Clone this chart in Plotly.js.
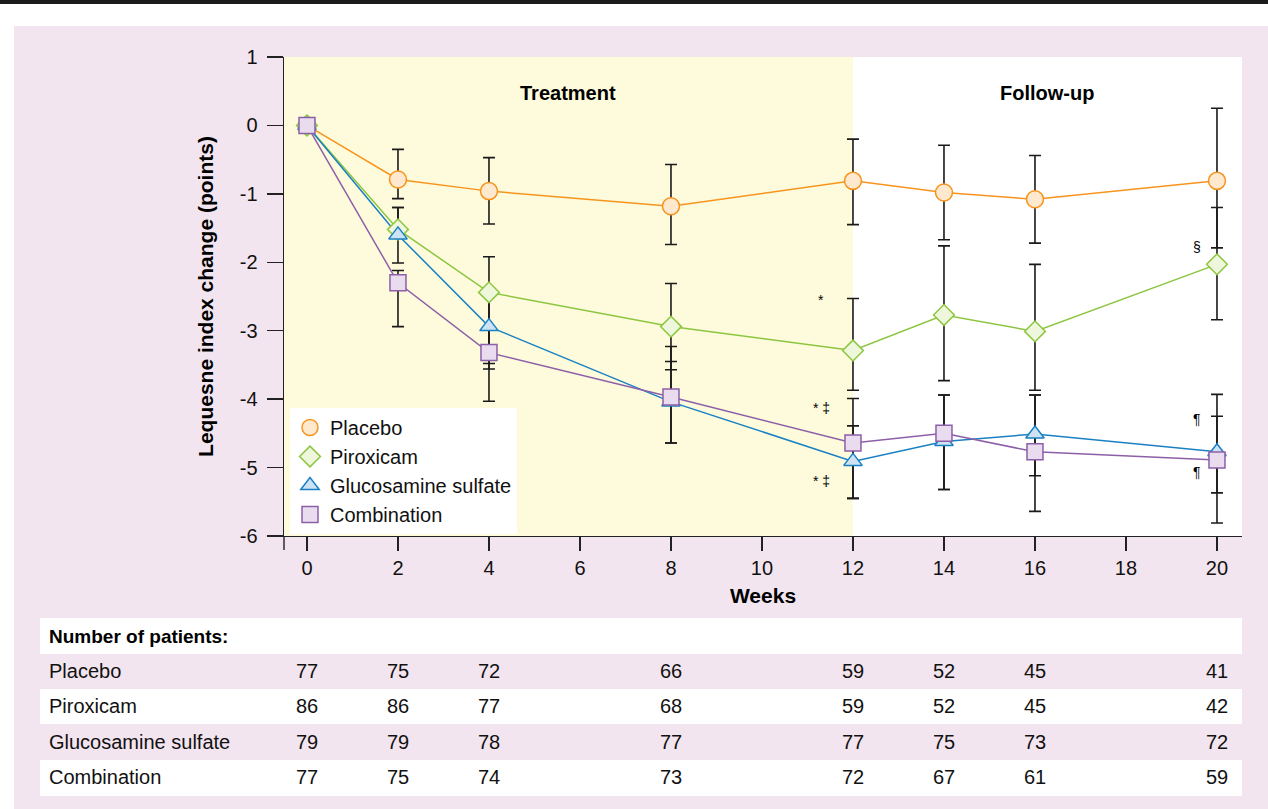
<!DOCTYPE html>
<html>
<head>
<meta charset="utf-8">
<script src="https://cdn.plot.ly/plotly-3.0.1.min.js"></script>
<style>html,body{margin:0;padding:0;background:#fff;}#chart{width:1268px;height:809px;}</style>
</head>
<body>
<div id="chart"></div>
<script>
// ---------- data ----------
const weeks = [0, 2, 4, 8, 12, 14, 16, 20];
const seriesNames = ["Placebo", "Piroxicam", "Glucosamine sulfate", "Combination"];

const placebo      = [0, -0.79, -0.96, -1.18, -0.81, -0.98, -1.08, -0.81];
const placeboUpper = [0, -0.35, -0.47, -0.57, -0.20, -0.29, -0.44,  0.25];
const placeboLower = [0, -1.07, -1.44, -1.74, -1.45, -1.67, -1.72, -1.79];

const piroxicam      = [0, -1.52, -2.44, -2.94, -3.29, -2.77, -3.01, -2.03];
const piroxicamUpper = [0, -1.20, -1.92, -2.31, -2.53, -1.76, -2.03, -1.20];
const piroxicamLower = [0, -1.52, -3.56, -3.57, -3.87, -3.73, -3.87, -2.84];

const glucosamine      = [0, -1.60, -2.94, -4.04, -4.91, -4.62, -4.51, -4.77];
const glucosamineUpper = [0, -1.20, -2.40, -3.45, -4.39, -3.94, -3.94, -4.25];
const glucosamineLower = [0, -2.01, -3.48, -4.64, -5.45, -5.32, -5.12, -5.37];

const combination      = [0, -2.30, -3.32, -3.97, -4.64, -4.50, -4.77, -4.89];
const combinationUpper = [0, -2.12, -2.94, -3.23, -3.99, -3.94, -3.94, -3.93];
const combinationLower = [0, -2.94, -4.03, -4.64, -5.45, -5.32, -5.64, -5.81];

const yTickVals   = [1, 0, -1, -2, -3, -4, -5, -6];
const yTickLabels = ["1", "0", "-1", "-2", "-3", "-4", "-5", "-6"];
const xTickVals   = [0, 2, 4, 6, 8, 10, 12, 14, 16, 18, 20];

const tableHeader = "Number of patients:";
const nPlacebo     = [77, 75, 72, 66, 59, 52, 45, 41];
const nPiroxicam   = [86, 86, 77, 68, 59, 52, 45, 42];
const nGlucosamine = [79, 79, 78, 77, 77, 75, 73, 72];
const nCombination = [77, 75, 74, 73, 72, 67, 61, 59];

const phaseLabels = ["Treatment", "Follow-up"];
const treatmentEnd = 12;

// significance marks: [x (weeks), y (points), text]
const sigMarks = [
  [11.3, -2.55, "*"],
  [11.3, -4.13, "* \u2021"],
  [11.3, -5.19, "* \u2021"],
  [19.55, -1.77, "\u00a7"],
  [19.55, -4.29, "\u00b6"],
  [19.55, -5.06, "\u00b6"]
];

// ---------- styles ----------
const FONT = "Liberation Sans, Arial, Helvetica, sans-serif";
const styles = [
  {line: "#f7941d", fill: "#fee9cf", symbol: "circle", size: 17},
  {line: "#8cc63f", fill: "#eef6dc", symbol: "diamond", size: 16},
  {line: "#1a80c4", fill: "#cde3f3", symbol: "triangle-up", size: 16},
  {line: "#8d5fa8", fill: "#e9dcee", symbol: "square", size: 16}
];
const values = [placebo, piroxicam, glucosamine, combination];
const uppers = [placeboUpper, piroxicamUpper, glucosamineUpper, combinationUpper];
const lowers = [placeboLower, piroxicamLower, glucosamineLower, combinationLower];

// ---------- layout geometry (pixels) ----------
const W = 1268, H = 809;
const L = 284, R = 1242, T = 57, B = 536;
const px = x => (x - L) / (R - L);
const py = y => (B - y) / (B - T);

const traces = [];
values.forEach((v, i) => {
  traces.push({
    x: weeks, y: v, mode: "lines", type: "scatter", showlegend: false, hoverinfo: "skip",
    line: {color: styles[i].line, width: 1.5},
    error_y: {
      type: "data", symmetric: false,
      array: uppers[i].map((u, k) => +(u - v[k]).toFixed(3)),
      arrayminus: lowers[i].map((l, k) => +(v[k] - l).toFixed(3)),
      color: "#1a1a1a", thickness: 1.6, width: 6
    }
  });
});
values.forEach((v, i) => {
  traces.push({
    x: weeks, y: v, mode: "markers", type: "scatter", name: seriesNames[i],
    marker: {symbol: styles[i].symbol, size: styles[i].size, color: styles[i].fill,
             line: {color: styles[i].line, width: 1.5}}
  });
});

const shapes = [
  {type: "rect", xref: "paper", yref: "paper", x0: px(0), x1: px(W), y0: py(0), y1: py(4), fillcolor: "#1b1b1b", line: {width: 0}, layer: "below"},
  {type: "rect", xref: "paper", yref: "paper", x0: px(14), x1: px(W), y0: py(26), y1: py(H), fillcolor: "#f3e5ef", line: {width: 0}, layer: "below"},
  {type: "rect", xref: "paper", yref: "paper", x0: 0, x1: 1, y0: 0, y1: 1, fillcolor: "#ffffff", line: {width: 0}, layer: "below"},
  {type: "rect", xref: "x", yref: "paper", x0: -0.505, x1: treatmentEnd, y0: 0, y1: 1, fillcolor: "#fdfbdc", line: {width: 0}, layer: "below"},
  {type: "rect", xref: "paper", yref: "paper", x0: px(40), x1: 1, y0: py(618), y1: py(654), fillcolor: "#ffffff", line: {width: 0}, layer: "below"},
  {type: "rect", xref: "paper", yref: "paper", x0: px(40), x1: 1, y0: py(689), y1: py(724), fillcolor: "#ffffff", line: {width: 0}, layer: "below"},
  {type: "rect", xref: "paper", yref: "paper", x0: px(40), x1: 1, y0: py(760), y1: py(796), fillcolor: "#ffffff", line: {width: 0}, layer: "below"},
  {type: "line", xref: "paper", yref: "paper", x0: 0, x1: 0, y0: 0, y1: py(550), line: {color: "#222", width: 1.4}}
];

const annotations = [];
annotations.push({x: 5.74, y: 0.48, xref: "x", yref: "y", text: phaseLabels[0], showarrow: false,
  font: {family: FONT, size: 20, color: "#000", weight: "bold"}});
annotations.push({x: 16.26, y: 0.48, xref: "x", yref: "y", text: phaseLabels[1], showarrow: false,
  font: {family: FONT, size: 20, color: "#000", weight: "bold"}});
sigMarks.forEach(s => annotations.push({x: s[0], y: s[1], xref: "x", yref: "y", text: s[2], showarrow: false,
  font: {family: FONT, size: 14, color: "#000"}}));

// table
const rowY = [636, 671, 706, 742, 777];
annotations.push({x: px(47), y: py(rowY[0]), xref: "paper", yref: "paper", xanchor: "left", yanchor: "middle",
  text: tableHeader, showarrow: false, font: {family: FONT, size: 19, color: "#000", weight: "bold"}});
const counts = [nPlacebo, nPiroxicam, nGlucosamine, nCombination];
seriesNames.forEach((nm, i) => {
  annotations.push({x: px(47), y: py(rowY[i + 1]), xref: "paper", yref: "paper", xanchor: "left", yanchor: "middle",
    text: nm, showarrow: false, font: {family: FONT, size: 20, color: "#111"}});
  counts[i].forEach((n, k) => annotations.push({x: weeks[k], y: py(rowY[i + 1]), xref: "x", yref: "paper",
    xanchor: "center", yanchor: "middle",
    text: String(n), showarrow: false, font: {family: FONT, size: 20, color: "#111"}}));
});

const layout = {
  width: W, height: H,
  margin: {l: L, r: W - R, t: T, b: H - B, pad: 0},
  paper_bgcolor: "#ffffff", plot_bgcolor: "rgba(0,0,0,0)",
  font: {family: FONT, color: "#000"},
  showlegend: true,
  legend: {x: px(290), y: py(408), xanchor: "left", yanchor: "top", bgcolor: "#ffffff",
           borderwidth: 0, font: {family: FONT, size: 20, color: "#111"}, itemwidth: 30},
  xaxis: {range: [-0.505, 20.55], tickvals: xTickVals, ticks: "outside", ticklen: 14, tickwidth: 1.4,
          tickcolor: "#222", showline: true, linecolor: "#222", linewidth: 1.4, showgrid: false, zeroline: false,
          tickfont: {family: FONT, size: 20, color: "#111"},
          title: {text: "Weeks", font: {family: FONT, size: 21, color: "#000", weight: "bold"}, standoff: 10}},
  yaxis: {range: [-6, 1], tickvals: yTickVals, ticktext: yTickLabels, ticks: "outside", ticklen: 16, tickwidth: 1.4,
          tickcolor: "#222", showline: true, linecolor: "#222", linewidth: 1.4, showgrid: false, zeroline: false,
          tickfont: {family: FONT, size: 20, color: "#111"}, ticklabelstandoff: 5,
          title: {text: "Lequesne index change (points)", font: {family: FONT, size: 21, color: "#000", weight: "bold"}, standoff: 20}},
  shapes: shapes,
  annotations: annotations
};

Plotly.newPlot("chart", traces, layout, {displayModeBar: false, staticPlot: true});
</script>
</body>
</html>
